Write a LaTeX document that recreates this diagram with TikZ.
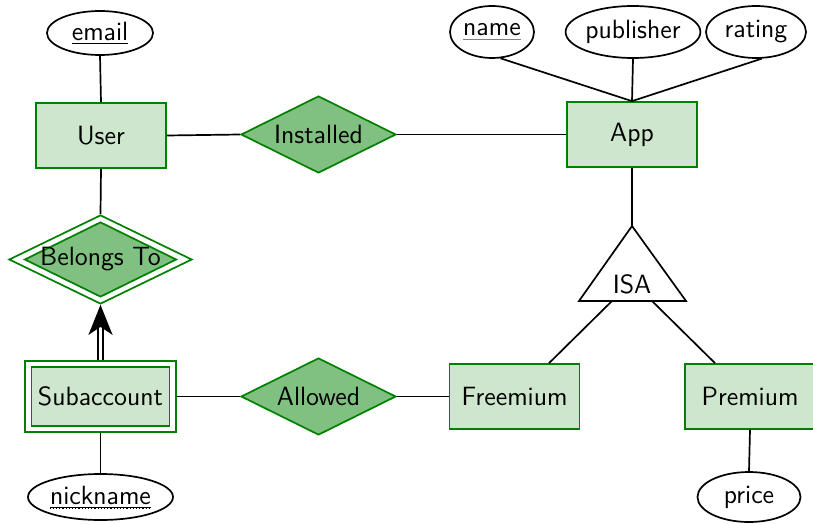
\documentclass[tikz,border=0pt]{standalone}
\usetikzlibrary{shapes.geometric,arrows.meta}
\definecolor{entfill}{RGB}{205,230,205}
\definecolor{relfill}{RGB}{128,192,128}
\definecolor{erborder}{RGB}{0,128,0}
\begin{document}
\begin{tikzpicture}[x=0.5pt,y=-0.5pt,
  font=\sffamily\fontsize{13.2}{15.5}\selectfont,
  link/.style={draw=black,line width=0.85pt},
  entity/.style={rectangle,draw=erborder,fill=entfill,line width=0.85pt,
    minimum width=65pt,minimum height=32.5pt,inner sep=0pt},
  weakouter/.style={rectangle,draw=erborder,fill=white,line width=0.85pt,
    minimum width=75.5pt,minimum height=35.5pt,inner sep=0pt},
  weakinner/.style={rectangle,draw=erborder,fill=entfill,line width=0.85pt,
    minimum width=69pt,minimum height=29.5pt,inner sep=0pt},
  relation/.style={diamond,aspect=2,draw=erborder,fill=relfill,line width=0.85pt,
    minimum width=77.5pt,minimum height=38.5pt,inner sep=0pt},
  relouter/.style={diamond,aspect=2,draw=erborder,fill=white,line width=0.85pt,
    minimum width=91.5pt,minimum height=44.5pt,inner sep=0pt},
  relinner/.style={diamond,aspect=2,draw=erborder,fill=relfill,line width=0.85pt,
    minimum width=76pt,minimum height=37.5pt,inner sep=0pt},
  attr/.style={ellipse,draw=black,fill=white,line width=0.85pt,inner sep=0pt},
]
\useasboundingbox (0,0) rectangle (813,524);

% entities
\node[entity] (user) at (101,135.5) {User};
\node[entity] (app) at (632,134.5) {App};
\node[entity] (freemium) at (514.5,396.5) {Freemium};
\node[entity] (premium) at (750,396.5) {Premium};
\node[weakouter] (sub) at (100.5,396.5) {};
\node[weakinner] (subin) at (100.5,396.5) {Subaccount};

% relationships
\node[relation] (installed) at (318.5,134.5) {Installed};
\node[relation] (allowed) at (318.5,396.5) {Allowed};
\node[relouter] (belongs) at (100.5,259.5) {};
\node[relinner,label=center:Belongs To] (belongsin) at (100.5,259.5) {};

% attributes
\node[attr,minimum width=53pt,minimum height=22pt] (email) at (100,33) {\underline{email}};
\node[attr,minimum width=42pt,minimum height=26pt] (name) at (492,32)
  {{\color{gray}\underline{\textcolor{black}{name}}}};
\node[attr,minimum width=67pt,minimum height=26pt] (publisher) at (633,32) {publisher};
\node[attr,minimum width=50pt,minimum height=26pt] (rating) at (756,32) {rating};
\node[attr,minimum width=72.5pt,minimum height=23pt] (nickname) at (100.5,497) {\underline{nickname}};
\node[attr,minimum width=51.5pt,minimum height=25pt] (price) at (749,497) {price};
% partial-key mark: dotted rule under the underlined nickname
\draw[densely dotted,line width=0.6pt] ([xshift=-25.5pt,yshift=-5.7pt]nickname.center) -- ([xshift=25.5pt,yshift=-5.7pt]nickname.center);

% ISA triangle
\coordinate (isaapex) at (632,226);
\coordinate (isaleft) at (579,301);
\coordinate (isaright) at (686,301);
\draw[link,line join=miter] (isaapex) -- (isaleft) -- (isaright) -- cycle;
\node (isa) at (632,284) {ISA};
\coordinate (isafree) at (612,301);
\coordinate (isaprem) at (652,301);

% connectors
\draw[link] (email.south) -- (user.north);
\draw[link] (user.east) -- (installed.west);
\draw[link] (installed.east) -- (app.west);
\draw[link] (name.-72) -- (app.north);
\draw[link] (publisher.south) -- (app.north);
\draw[link] (rating.-78) -- (app.north);
\draw[link] (user.south) -- (belongs.north);
\draw[line width=1pt,double=white,double distance=1.5pt,
  -{Stealth[length=15pt,width=12pt,inset=4pt]}] (sub.north) -- (belongs.south);
\draw[link] (sub.east) -- (allowed.west);
\draw[link] (allowed.east) -- (freemium.west);
\draw[link] (sub.south) -- (nickname.north);
\draw[link] (app.south) -- (isaapex);
\draw[link] (isafree) -- ([xshift=17.25pt]freemium.north);
\draw[link] (isaprem) -- ([xshift=-17.5pt]premium.north);
\draw[link] (premium.south) -- (price.north);
\end{tikzpicture}
\end{document}
